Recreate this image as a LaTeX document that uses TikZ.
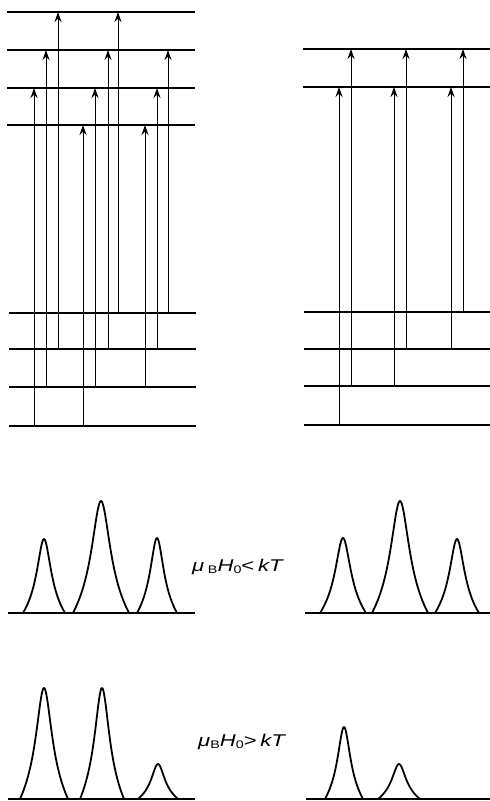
\documentclass[tikz,border=0pt]{standalone}
\usepackage{fontspec}
\setsansfont{Liberation Sans}
\usetikzlibrary{arrows.meta}
\tikzset{
  level/.style={line width=1.6pt},
  trans/.style={line width=1pt,-{Stealth[length=10pt,width=7pt,inset=3.5pt]}},
  baseline/.style={line width=1.3pt},
  peakline/.style={line width=1.8pt,line join=round,line cap=round},
  fieldlabel/.style={font=\sffamily\fontsize{17}{19}\selectfont,inner sep=0pt,anchor=base west}
}
% line shape: centre, baseline, height, half base
\newcommand{\peakat}[4]{%
  \pgfmathsetmacro{\pg}{0.4*#4}
  \pgfmathsetmacro{\pa}{1/(1+(#4/\pg)^2)}
  \pgfmathsetmacro{\pe}{0.14*#4}
  \pgfmathsetmacro{\pd}{sqrt(#4*#4+\pe*\pe)-\pe}
  \draw[peakline] plot[domain=-#4:#4,samples=101,smooth]
    ({#1+\x},{#2-#3*(0.75*(1/(1+(\x/\pg)^2)-\pa)/(1-\pa)+0.25*(1-(sqrt(\x*\x+\pe*\pe)-\pe)/\pd))});
}
\newcommand{\subsc}[1]{\raisebox{-2.5pt}{\fontsize{11}{12}\selectfont #1}}
\newcommand{\widetext}[1]{\scalebox{1.3}[1]{#1}}

\begin{document}
\begin{tikzpicture}[x=1pt,y=-1pt]
  \useasboundingbox (0,0) rectangle (490,801);

  % levels, left scheme
  \foreach \n/\y in {0/125,1/88,2/50,3/12}
    \draw[level] (7,\y) coordinate (LU\n) -- (195,\y);
  \foreach \n/\y in {0/426,1/387,2/349,3/313}
    \draw[level] (9,\y) coordinate (LL\n) -- (196,\y);

  % levels, right scheme
  \foreach \n/\y in {0/87,1/49}
    \draw[level] (303,\y) coordinate (RU\n) -- (490,\y);
  \foreach \n/\y in {0/425,1/386,2/349,3/312}
    \draw[level] (304,\y) coordinate (RL\n) -- (490,\y);

  % transitions
  \foreach \x/\a/\b in {34/0/1,46/1/2,58/2/3,83/0/0,95/1/1,108/2/2,118/3/3,145/1/0,157/2/1,168/3/2}
    \draw[trans] (\x,0 |- LL\a) -- (\x,0 |- LU\b);
  \foreach \x/\a/\b in {339/0/0,351/1/1,394/1/0,406/2/1,451/2/0,463/3/1}
    \draw[trans] (\x,0 |- RL\a) -- (\x,0 |- RU\b);

  % spectra, weak field
  \draw[baseline] (8,613) coordinate (wl) -- (195,613);
  \draw[baseline] (305,613) coordinate (wr) -- (490,613);
  \peakat{44}{613}{74}{21}
  \peakat{101}{613}{112}{28}
  \peakat{157}{613}{75}{20}
  \peakat{343}{613}{75}{23}
  \peakat{400}{613}{112}{28}
  \peakat{457}{613}{74}{22}
  \node[fieldlabel] (weak) at (192,571)
    {\widetext{\textit{μ}\,\subsc{B}\textit{H}\subsc{0}<\,\textit{kT}}};

  % spectra, strong field
  \draw[baseline] (8,799) coordinate (sl) -- (195,799);
  \draw[baseline] (306,799) coordinate (sr) -- (490,799);
  \peakat{44}{799}{111}{24}
  \peakat{102}{799}{111}{22}
  \peakat{158}{799}{35}{20}
  \peakat{344}{799}{72}{19}
  \peakat{399}{799}{35}{21}
  \node[fieldlabel] (strong) at (198,746)
    {\widetext{\textit{μ}\subsc{B}\textit{H}\subsc{0}>\,\textit{kT}}};
\end{tikzpicture}
\end{document}
